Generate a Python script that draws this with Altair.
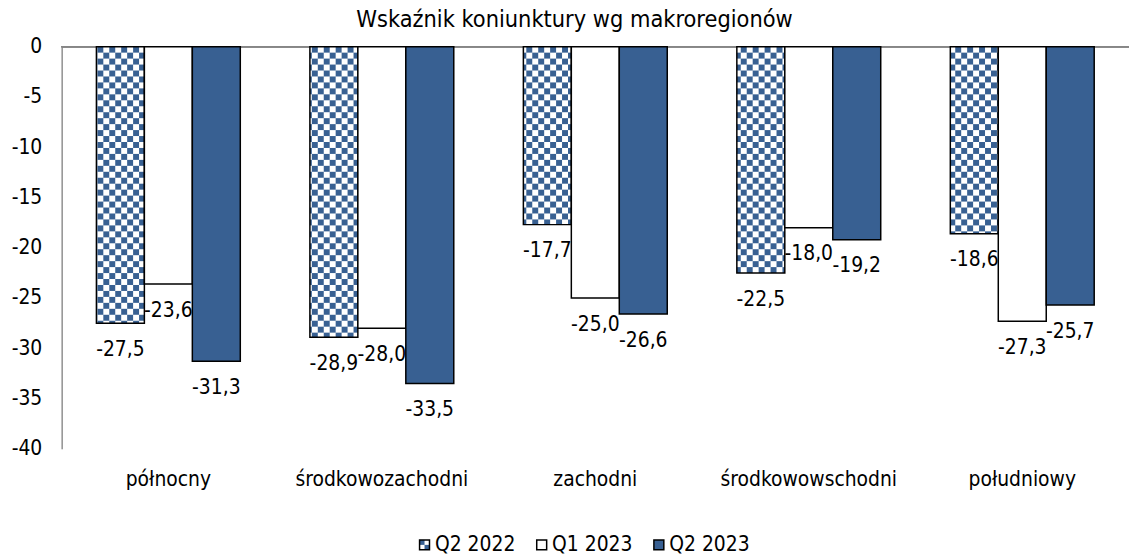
import altair as alt
import pandas as pd
import jinja2

regions = ["północny", "środkowozachodni", "zachodni", "środkowowschodni", "południowy"]
series = ["Q2 2022", "Q1 2023", "Q2 2023"]
q2_2022 = [-27.5, -28.9, -17.7, -22.5, -18.6]
q1_2023 = [-23.6, -28.0, -25.0, -18.0, -27.3]
q2_2023 = [-31.3, -33.5, -26.6, -19.2, -25.7]
y_ticks = [0, -5, -10, -15, -20, -25, -30, -35, -40]
title_text = "Wskaźnik koniunktury wg makroregionów"

rows = []
for i, r in enumerate(regions):
    for s, vals in zip(series, [q2_2022, q1_2023, q2_2023]):
        v = vals[i]
        rows.append({"region": r, "series": s, "value": v,
                     "label": f"{v:.1f}".replace(".", ",")})
df = pd.DataFrame(rows)

FONT = "DejaVu Sans Condensed"
BLUE = "#386092"
colors = ["url(#chk) #8fa3c4", "#ffffff", BLUE]

x = alt.X("region:N", sort=regions, title=None,
          scale=alt.Scale(paddingInner=0.326, paddingOuter=0.163),
          axis=alt.Axis(domain=False, ticks=False, labelPadding=20, labelAngle=0,
                        labelFontSize=21, labelColor="black", labelFont=FONT))
xo = alt.XOffset("series:N", sort=series, scale=alt.Scale(paddingInner=0, paddingOuter=0))
y = alt.Y("value:Q", title=None, scale=alt.Scale(domain=[-40, 0], nice=False),
          axis=alt.Axis(values=y_ticks, labelExpr="'' + datum.value", grid=False,
                        ticks=False, tickSize=0, domainColor="#595959", domainWidth=1,
                        labelPadding=20, labelFontSize=21, labelColor="black",
                        labelFont=FONT))

base = alt.Chart(df)

zero = base.mark_rule(color="#868686", strokeWidth=1).encode(y=alt.datum(0))

bars = base.mark_bar(stroke="black", strokeWidth=1.5).encode(
    x=x, xOffset=xo, y=y,
    fill=alt.Fill("series:N", sort=series,
                  scale=alt.Scale(domain=series, range=colors),
                  legend=alt.Legend(title=None, orient="none", legendX=355, legendY=491,
                                    direction="horizontal", symbolType="square",
                                    symbolSize=100, symbolStrokeColor="black",
                                    symbolStrokeWidth=1.5, labelFontSize=21,
                                    labelFont=FONT, labelColor="black", labelOffset=0,
                                    columnPadding=16, padding=0)),
)

labels = base.mark_text(dy=33, baseline="alphabetic", fontSize=21, font=FONT,
                        color="black").encode(x=x, xOffset=xo, y=y, text="label:N")

chart = alt.layer(zero, bars, labels).properties(
    width=1075, height=405,
    autosize=alt.AutoSizeParams(type="none"),
    padding={"left": 54, "top": 37, "right": 0, "bottom": 107},
    title=alt.TitleParams(title_text, fontSize=23.5, font=FONT, fontWeight="normal",
                          color="black", baseline="alphabetic", offset=-15, dx=-21),
).configure_view(stroke=None)

TEMPLATE = jinja2.Template("""<!DOCTYPE html>
<html>
<head>
  <style>
    #{{ output_div }}.vega-embed { width: 100%; display: flex; }
  </style>
  <script type="text/javascript" src="{{ base_url }}/vega@{{ vega_version }}"></script>
  <script type="text/javascript" src="{{ base_url }}/vega-lite@{{ vegalite_version }}"></script>
  <script type="text/javascript" src="{{ base_url }}/vega-embed@{{ vegaembed_version }}"></script>
</head>
<body>
  <svg width="0" height="0" style="position:absolute"><defs>
    <pattern id="chk" patternUnits="userSpaceOnUse" width="12" height="12">
      <rect width="12" height="12" fill="#ffffff"/>
      <rect width="6" height="6" fill="#386092"/>
      <rect x="6" y="6" width="6" height="6" fill="#386092"/>
    </pattern></defs></svg>
  <div id="{{ output_div }}"></div>
  <script type="text/javascript">
    var spec = {{ spec }};
    var embedOpt = {{ embed_options }};
    vegaEmbed("#{{ output_div }}", spec, embedOpt);
  </script>
</body>
</html>""")

try:
    chart.save("out.html", embed_options={"renderer": "svg", "actions": False},
               template=TEMPLATE)
except Exception:
    chart.save("out.html", embed_options={"renderer": "svg", "actions": False})
